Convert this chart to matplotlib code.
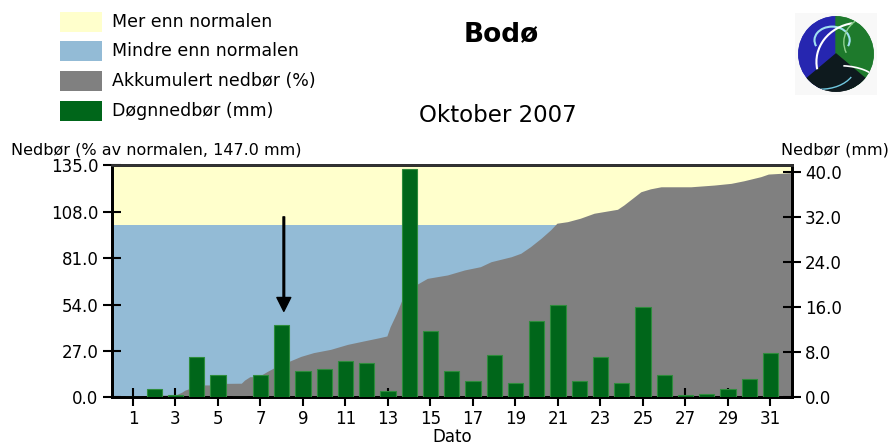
import numpy as np
import matplotlib
matplotlib.use("Agg")
import matplotlib.pyplot as plt
from matplotlib.patches import Rectangle, Circle, Wedge, Arc

# daily precipitation, Bodø, October 2007 (mm)
days = np.arange(1, 32)
precip_mm = [0, 1.4, 0.4, 7.1, 3.9, 0, 3.9, 12.8, 4.7, 5.0, 6.4, 6.1, 1.2, 40.4,
             11.8, 4.7, 2.9, 7.5, 2.5, 13.5, 16.3, 2.9, 7.1, 2.5, 16.0, 3.9,
             0.35, 0.6, 1.4, 3.2, 7.8]

# accumulated precipitation, % of normal
acc_x = [0, 1.4, 1.6, 2.3, 3.0, 3.3, 3.45, 4.0, 4.3, 5.25, 5.35, 6.1, 6.25, 6.5,
         6.9, 7.3, 7.6, 8.3, 8.9, 9.5, 10.3, 11.1, 11.9, 12.6, 12.95, 13.1, 13.4,
         13.7, 14.3, 14.85, 15.8, 16.6, 17.35, 17.85, 18.8, 19.25, 19.7, 20.2,
         20.65, 20.95, 21.45, 22.05, 22.7, 23.8, 24.1, 24.6, 24.9, 25.35, 25.85,
         27.25, 28.35, 29.15, 29.75, 30.55, 30.9, 32]
acc_pct = [0, 0, 1.0, 1.3, 1.3, 3.0, 4.2, 6.5, 7.2, 7.2, 8.1, 8.2, 10.0, 12.0,
           12.0, 14.9, 16.9, 20.7, 23.8, 26.0, 27.9, 30.8, 32.9, 34.7, 35.7, 41.0,
           48.9, 58.0, 65.3, 69.2, 71.2, 74.1, 76.0, 78.9, 81.8, 83.8, 87.6, 92.5,
           97.4, 101.3, 102.2, 104.2, 107.1, 109.4, 111.9, 116.7, 119.6, 121.3,
           122.5, 122.5, 123.5, 124.5, 126.0, 128.4, 129.9, 130.7]

normal_pct = 100
pct_ticks = [0, 27, 54, 81, 108, 135]
mm_ticks = [0, 8, 16, 24, 32, 40]
xtick_days = list(range(1, 32, 2))

legend_labels = ["Mer enn normalen", "Mindre enn normalen",
                 "Akkumulert nedbør (%)", "Døgnnedbør (mm)"]

YELLOW = "#ffffcc"
BLUE = "#93bbd6"
GREY = "#808080"
GREEN = "#00661a"

W, H = 891, 445


def fx(x):
    return x / W


def fy(y):
    return 1 - y / H


fig = plt.figure(figsize=(W / 100, H / 100), dpi=100)
plt.rcParams['font.family'] = 'DejaVu Sans'

ax = fig.add_axes([fx(111.7), fy(397.3), (791.7 - 111.7) / W, (397.3 - 165.3) / H])
ax.set_xlim(0, 32)
ax.set_ylim(0, 135)

# background bands
ax.axhspan(normal_pct, 135, color=YELLOW, lw=0, zorder=0)
ax.axhspan(0, normal_pct, color=BLUE, lw=0, zorder=0)
ax.fill_between(acc_x, 0, acc_pct, color=GREY, lw=0, zorder=1)

ax.set_yticks(pct_ticks)
ax.set_yticklabels([f"{v:.1f}" for v in pct_ticks])
ax.tick_params(axis='y', direction='inout', length=13, width=1.5,
               labelsize=12, pad=3)
ax.xaxis.set_visible(False)

ax2 = ax.twinx()
ax2.set_ylim(0, 41.13)
ax2.bar(days, precip_mm, width=0.72, color=GREEN, edgecolor="#2e8c3c",
        linewidth=0.8, zorder=3)
ax2.set_yticks(mm_ticks)
ax2.set_yticklabels([f"{v:.1f}" for v in mm_ticks])
ax2.tick_params(axis='y', direction='inout', length=13, width=1.5,
                labelsize=12, pad=3)

# x ticks on the twin so they sit on top of the bars
ax2.xaxis.set_visible(True)
ax2.set_xticks(xtick_days)
ax2.set_xticklabels([str(d) for d in xtick_days])
ax2.tick_params(axis='x', direction='inout', length=13, width=1.5,
                labelsize=12, pad=3)
ax2.set_xlabel("Dato", fontsize=12, labelpad=0)

for a in (ax, ax2):
    for s in a.spines.values():
        s.set_linewidth(2)
        s.set_color("black")
ax2.spines['top'].set_color("#333333")

# arrow pointing at the 8th
ax2.annotate("", xy=(8.1, 50), xytext=(8.1, 105),
             xycoords=ax.transData, textcoords=ax.transData,
             arrowprops=dict(facecolor='black', edgecolor='black', width=1.2,
                             headwidth=10, headlength=10, shrink=0))

# axis titles
fig.text(fx(11), fy(150), "Nedbør (% av normalen, 147.0 mm)", fontsize=11.5,
         ha='left', va='center')
fig.text(fx(889), fy(150), "Nedbør (mm)", fontsize=11.5, ha='right',
         va='center')

# titles
fig.text(fx(501), fy(34), "Bodø", fontsize=19, fontweight='bold',
         ha='center', va='center')
fig.text(fx(498), fy(116), "Oktober 2007", fontsize=16.5, ha='center',
         va='center')

# legend
legend_colors = [YELLOW, BLUE, GREY, GREEN]
legend_tops = [11.7, 40.7, 70.7, 100.7]
for lab, col, top in zip(legend_labels, legend_colors, legend_tops):
    fig.add_artist(Rectangle((fx(60), fy(top + 20.5)), 42 / W, 20.5 / H,
                             transform=fig.transFigure, facecolor=col,
                             edgecolor=col, lw=0))
    fig.text(fx(112), fy(top + 10.5), lab, fontsize=12.5, ha='left',
             va='center')

# logo
lax = fig.add_axes([fx(791), fy(100), 90 / W, 92 / H])
lax.set_xlim(-1.15, 1.15)
lax.set_ylim(-1.15, 1.15)
lax.set_aspect('equal')
lax.axis('off')
lax.add_patch(Rectangle((-1.05, -1.05), 2.1, 2.1, color="#f8f8f8", lw=0))
clip = Circle((0, 0), 0.97, transform=lax.transData)
parts = [
    Wedge((0, 0), 0.97, 90, 250, color="#2626b0"),
    Wedge((0, 0), 0.97, -70, 90, color="#1e7a2c"),
    Wedge((0, 0), 0.97, 220, 320, color="#0e1a1e"),
    Arc((-0.1, 0.35), 0.9, 0.7, theta1=-20, theta2=200, color="#a0e0f0", lw=1.5),
    Arc((0.6, -0.2), 2.2, 2.0, theta1=100, theta2=190, color="white", lw=1.5),
    Arc((-0.4, -0.3), 1.8, 1.2, theta1=200, theta2=340, color="#70c8e0", lw=1),
    Arc((1.0, 0.3), 1.6, 1.4, theta1=110, theta2=200, color="#8fd08f", lw=1),
    Arc((0.1, -0.8), 2.0, 1.0, theta1=10, theta2=80, color="white", lw=1.2),
]
for p in parts:
    lax.add_patch(p)
    p.set_clip_path(clip)

fig.savefig("out.png", dpi=100)
